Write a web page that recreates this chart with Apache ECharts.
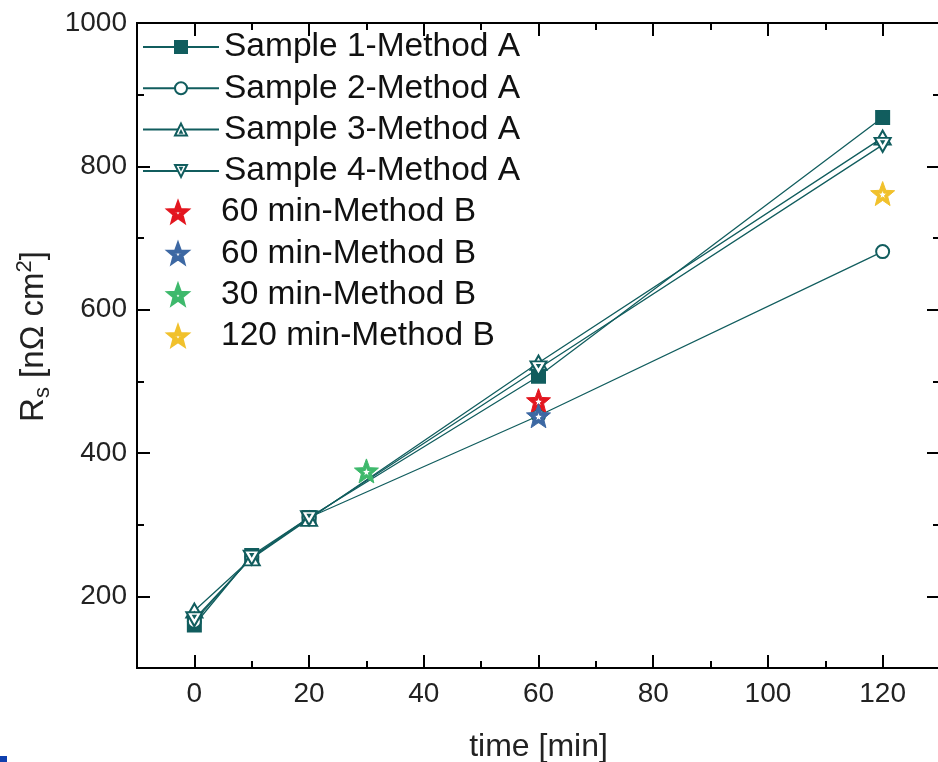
<!DOCTYPE html>
<html>
<head>
<meta charset="utf-8">
<title>Rs vs time</title>
<script src="https://cdn.jsdelivr.net/npm/echarts@6.0.0/dist/echarts.min.js"></script>
<style>
  html, body { margin: 0; padding: 0; background: #fff; }
  #main { width: 938px; height: 762px; }
</style>
</head>
<body>
<div id="main"></div>
<script type="text/javascript">
    // time [min] -> Rs [nOhm cm2]
    var sample1 = [[0, 160], [10, 257], [20, 310], [60, 507], [120, 868]];
    var sample2 = [[0, 165], [10, 255], [20, 310], [60, 452], [120, 681]];
    var sample3 = [[0, 180], [10, 253], [20, 308], [60, 526], [120, 840]];
    var sample4 = [[0, 168], [10, 254], [20, 309], [60, 518], [120, 830]];
    var red60 = [[60, 473]];
    var blue60 = [[60, 452]];
    var green30 = [[30, 375]];
    var yellow120 = [[120, 762]];

    var xMajor = [0, 20, 40, 60, 80, 100, 120];
    var xMinor = [10, 30, 50, 70, 90, 110];
    var yMajor = [200, 400, 600, 800, 1000];
    var yMinor = [100, 300, 500, 700, 900];

    var teal = '#115d5e';
    var font = 'Arial, "Liberation Sans", sans-serif';

    // solid star with a small star-shaped hole (inner path wound the other way)
    var starPath = 'path://M10 0L12.47 6.6L19.51 6.91L14 11.3L15.88 18.09L10 14.2L4.12 18.09L6 11.3L0.49 6.91L7.53 6.6Z' +
        'M10 6.2L9.06 8.71L6.39 8.83L8.48 10.49L7.77 13.07L10 11.6L12.23 13.07L11.52 10.49L13.61 8.83L10.94 8.71Z';
    var triPath = 'path://M10 0L20 18L0 18ZM10 11.5L11.2 13.6L8.8 13.6Z';

    function xAx(pos, ticks, len, labels) {
        return {
            type: 'value', position: pos, min: -10, max: 130,
            axisLine: {show: true, onZero: false, lineStyle: {color: '#000', width: 2}},
            axisTick: {show: true, inside: true, length: len, customValues: ticks,
                lineStyle: {color: '#000', width: 2}},
            axisLabel: labels ? {show: true, customValues: ticks, fontSize: 28, color: '#222',
                fontFamily: font, margin: 12} : {show: false},
            splitLine: {show: false},
            name: labels ? 'time [min]' : '',
            nameLocation: 'middle', nameGap: 63,
            nameTextStyle: {fontSize: 32, color: '#222', fontFamily: font}
        };
    }

    function yAx(pos, ticks, len, labels) {
        return {
            type: 'value', position: pos, min: 100, max: 1000,
            axisLine: {show: true, onZero: false, lineStyle: {color: '#000', width: 2}},
            axisTick: {show: true, inside: true, length: len, customValues: ticks,
                lineStyle: {color: '#000', width: 2}},
            axisLabel: labels ? {show: true, customValues: ticks, fontSize: 28, color: '#222',
                fontFamily: font, margin: 10, formatter: function (v) { return String(v); }} : {show: false},
            splitLine: {show: false},
            name: labels ? '{a|R}{sub|s}{a| [nΩ cm}{sup|2}{a|]}' : '',
            nameLocation: 'middle', nameGap: 82, nameRotate: 90,
            nameTextStyle: {
                color: '#222', fontFamily: font, padding: [0, 0, 0, 18],
                rich: {
                    a: {fontSize: 33, fontFamily: font, color: '#222', lineHeight: 40},
                    sub: {fontSize: 22, fontFamily: font, color: '#222', verticalAlign: 'bottom', lineHeight: 40},
                    sup: {fontSize: 22, fontFamily: font, color: '#222', verticalAlign: 'top', lineHeight: 40}
                }
            }
        };
    }

    function lineSeries(name, data, symbol, size, fill, rotate) {
        return {
            name: name, type: 'line', data: data,
            xAxisIndex: 0, yAxisIndex: 0,
            symbol: symbol, symbolSize: size, symbolRotate: rotate || 0,
            lineStyle: {color: teal, width: 1.3},
            itemStyle: {color: fill, borderColor: teal, borderWidth: 2},
            z: 3
        };
    }

    function starSeries(name, data, color) {
        return {
            name: name, type: 'line', data: data,
            xAxisIndex: 0, yAxisIndex: 0,
            symbol: starPath, symbolSize: 24,
            lineStyle: {opacity: 0, width: 0},
            itemStyle: {color: color, borderColor: color, borderWidth: 1, opacity: 1},
            z: 5
        };
    }

    var myChart = echarts.init(document.getElementById('main'));

    myChart.setOption({
        animation: false,
        backgroundColor: '#fff',
        grid: {left: 137, top: 23, right: -2, bottom: 94, outerBoundsMode: 'none', containLabel: false},
        xAxis: [
            xAx('bottom', xMajor, 13, true),
            xAx('bottom', xMinor, 7, false),
            xAx('top', xMajor, 13, false),
            xAx('top', xMinor, 7, false)
        ],
        yAxis: [
            yAx('left', yMajor, 13, true),
            yAx('left', yMinor, 7, false),
            yAx('right', yMajor, 13, false),
            yAx('right', yMinor, 7, false)
        ],
        legend: [
            {
                orient: 'vertical', left: 137, top: 25,
                itemWidth: 76, itemHeight: 15, itemGap: 7.3,
                textStyle: {fontSize: 33.5, color: '#111', fontFamily: font, lineHeight: 32},
                data: ['Sample 1-Method A', 'Sample 2-Method A', 'Sample 3-Method A', 'Sample 4-Method A']
            },
            {
                orient: 'vertical', left: 135, top: 190,
                itemWidth: 76, itemHeight: 27, itemGap: 7.3,
                lineStyle: {opacity: 0},
                textStyle: {fontSize: 33.5, color: '#111', fontFamily: font, lineHeight: 32},
                data: ['60 min-Method B', '60 min-Method B ', '30 min-Method B', '120 min-Method B']
            }
        ],
        graphic: [
            {type: 'rect', left: 0, top: 756, shape: {width: 7, height: 6}, style: {fill: '#0f3fae'}}
        ],
        series: [
            lineSeries('Sample 1-Method A', sample1, 'rect', 13, teal),
            lineSeries('Sample 2-Method A', sample2, 'circle', 13, '#fff'),
            lineSeries('Sample 3-Method A', sample3, triPath, [16, 14], '#fff'),
            lineSeries('Sample 4-Method A', sample4, triPath, [16, 14], '#fff', 180),
            starSeries('60 min-Method B', red60, '#e3161f'),
            starSeries('60 min-Method B ', blue60, '#3d68a3'),
            starSeries('30 min-Method B', green30, '#3eb96c'),
            starSeries('120 min-Method B', yellow120, '#f1c12c')
        ]
    });
</script>
</body>
</html>
